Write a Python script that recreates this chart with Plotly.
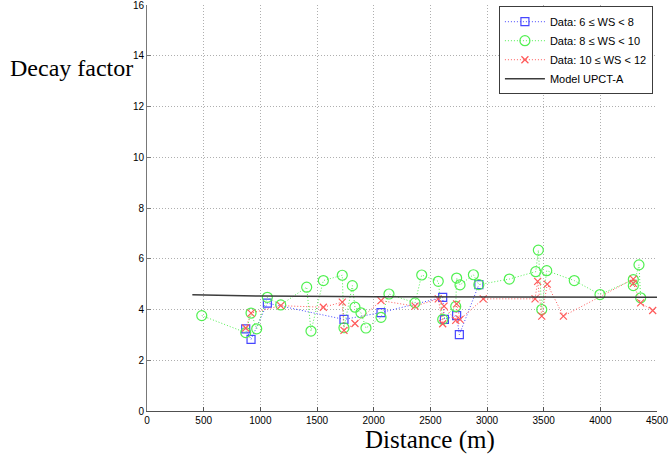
import plotly.graph_objects as go

# Data: 6 <= WS < 8 (blue squares)
blue_x = [871, 918, 1062, 1738, 2065, 2609, 2624, 2732, 2756, 2928]
blue_y = [3.24, 2.82, 4.25, 3.61, 3.88, 4.48, 3.61, 3.76, 3.01, 4.98]

# Data: 8 <= WS < 10 (green circles)
green_x = [483, 871, 918, 968, 1062, 1180, 1409, 1447, 1556, 1723, 1738, 1812, 1835,
           1888, 1932, 2065, 2135, 2365, 2424, 2570, 2609, 2724, 2732, 2762, 2880,
           2928, 3197, 3430, 3453, 3483, 3527, 3770, 3997, 4291, 4291, 4341, 4356]
green_y = [3.76, 3.09, 3.86, 3.24, 4.48, 4.18, 4.88, 3.15, 5.14, 5.35, 3.28, 4.94, 4.09,
           3.87, 3.27, 3.69, 4.61, 4.26, 5.36, 5.11, 3.61, 4.12, 5.24, 4.97, 5.37,
           4.98, 5.20, 5.49, 6.34, 4.00, 5.53, 5.14, 4.59, 5.18, 4.94, 5.76, 4.46]

# Data: 10 <= WS < 12 (red crosses)
red_x = [871, 918, 1180, 1556, 1723, 1738, 1835, 2065, 2365, 2570, 2609, 2621, 2724,
         2732, 2762, 2967, 3424, 3447, 3483, 3532, 3674, 4291, 4291, 4356, 4462]
red_y = [3.27, 3.86, 4.15, 4.09, 4.29, 3.18, 3.45, 4.35, 4.13, 4.42, 3.44, 4.13, 3.57,
         4.22, 3.61, 4.42, 4.42, 5.11, 3.74, 5.00, 3.74, 5.20, 5.03, 4.26, 3.96]

# Model UPCT-A
model_x = [400, 600, 1000, 2000, 3000, 4500]
model_y = [4.58, 4.56, 4.53, 4.50, 4.49, 4.48]

x_ticks = [0, 500, 1000, 1500, 2000, 2500, 3000, 3500, 4000, 4500]
y_ticks = [0, 2, 4, 6, 8, 10, 12, 14, 16]

BLUE = "rgb(70,70,255)"
GREEN = "rgb(80,240,80)"
RED = "rgb(255,90,90)"
DOT = "1px,2px"

fig = go.Figure()
fig.add_trace(go.Scatter(
    x=blue_x, y=blue_y, mode="lines+markers", name="Data: 6 ≤ WS < 8",
    line=dict(color=BLUE, width=1, dash=DOT),
    marker=dict(symbol="square-open", size=8, color=BLUE, line=dict(width=1.2, color=BLUE)),
))
fig.add_trace(go.Scatter(
    x=green_x, y=green_y, mode="lines+markers", name="Data: 8 ≤ WS < 10",
    line=dict(color=GREEN, width=1, dash=DOT),
    marker=dict(symbol="circle-open", size=10, color=GREEN, line=dict(width=1.2, color=GREEN)),
))
fig.add_trace(go.Scatter(
    x=red_x, y=red_y, mode="lines+markers", name="Data: 10 ≤ WS < 12",
    line=dict(color=RED, width=1, dash=DOT),
    marker=dict(symbol="x-thin-open", size=7, color=RED, line=dict(width=1.2, color=RED)),
))
fig.add_trace(go.Scatter(
    x=model_x, y=model_y, mode="lines", name="Model UPCT-A",
    line=dict(color="rgb(60,60,60)", width=1.5),
))

fig.update_layout(
    width=669, height=454,
    margin=dict(l=147, r=12, t=5, b=43),
    paper_bgcolor="white", plot_bgcolor="white",
    font=dict(family="Liberation Sans, Arial, sans-serif", size=10, color="black"),
    showlegend=True,
    legend=dict(
        x=0.992, y=0.997, xanchor="right", yanchor="top",
        bgcolor="white", bordercolor="rgb(60,60,60)", borderwidth=1,
        font=dict(size=11, family="Liberation Sans, Arial, sans-serif"),
        itemwidth=40,
    ),
    annotations=[
        dict(text="Decay factor", xref="paper", yref="paper", x=-0.0235, y=0.845,
             xanchor="right", yanchor="middle", showarrow=False,
             font=dict(family="Liberation Serif, Times New Roman, serif", size=24, color="black")),
        dict(text="Distance (m)", xref="paper", yref="paper", x=0.555, y=-0.071,
             xanchor="center", yanchor="middle", showarrow=False,
             font=dict(family="Liberation Serif, Times New Roman, serif", size=25, color="black")),
    ],
)
fig.update_xaxes(
    range=[0, 4500], tickvals=x_ticks, ticktext=[str(v) for v in x_ticks],
    showgrid=True, gridcolor="rgb(175,175,175)", griddash=DOT, gridwidth=1,
    showline=True, linecolor="rgb(80,80,80)", linewidth=1,
    ticks="inside", ticklen=4, tickcolor="rgb(80,80,80)",
    zeroline=False, ticklabeloverflow="allow", automargin=False,
)
fig.update_yaxes(
    range=[0, 16], tickvals=y_ticks, ticktext=[str(v) for v in y_ticks],
    showgrid=True, gridcolor="rgb(175,175,175)", griddash=DOT, gridwidth=1,
    showline=True, linecolor="rgb(120,120,120)", linewidth=1,
    ticks="inside", ticklen=4, tickcolor="rgb(120,120,120)",
    zeroline=False, ticklabeloverflow="allow", automargin=False,
)

fig.write_html("out.html", config={"displayModeBar": False},
               post_script="document.body.style.margin='0px';")
